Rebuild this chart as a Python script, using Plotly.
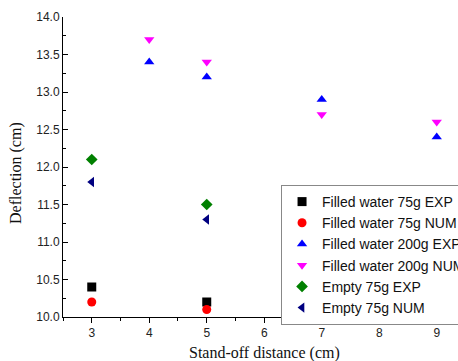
import plotly.graph_objects as go

x_fw75 = [3, 5]
y_fw75_exp = [10.4, 10.2]
y_fw75_num = [10.2, 10.1]
x_fw200 = [4, 5, 7, 9]
y_fw200_exp = [13.4, 13.2, 12.9, 12.4]
y_fw200_num = [13.7, 13.4, 12.7, 12.6]
x_em75 = [3, 5]
y_em75_exp = [12.1, 11.5]
y_em75_num = [11.8, 11.3]

series = [
    ("Filled water 75g EXP", x_fw75, y_fw75_exp, "square", "#000000"),
    ("Filled water 75g NUM", x_fw75, y_fw75_num, "circle", "#ff0000"),
    ("Filled water 200g EXP", x_fw200, y_fw200_exp, "triangle-up", "#0000ff"),
    ("Filled water 200g NUM", x_fw200, y_fw200_num, "triangle-down", "#ff00ff"),
    ("Empty 75g EXP", x_em75, y_em75_exp, "diamond", "#008000"),
    ("Empty 75g NUM", x_em75, y_em75_num, "triangle-left", "#000080"),
]

fig = go.Figure()
for name, xs, ys, sym, col in series:
    fig.add_trace(go.Scatter(x=xs, y=ys, mode="markers", name=name,
                             marker=dict(symbol=sym, color=col, size=9, line=dict(width=0))))

serif = "Liberation Serif, Times New Roman"
fig.update_layout(
    width=458, height=361,
    margin=dict(l=63, r=0, t=17, b=44, autoexpand=False),
    paper_bgcolor="white", plot_bgcolor="white",
    font=dict(family="Arial, Liberation Sans", size=12, color="#222"),
    legend=dict(x=0.552, y=0.44, xanchor="left", yanchor="top",
                bordercolor="#888", borderwidth=1, bgcolor="white",
                font=dict(size=14, color="#111"), tracegroupgap=0,
                itemwidth=30),
    xaxis=dict(range=[2.5, 9.37], tick0=3, dtick=1, ticks="outside", ticklen=5,
               automargin=False,
               showgrid=False, zeroline=False, showline=True, linecolor="black", linewidth=1,
               tickcolor="black",
               minor=dict(dtick=0.5, ticks="outside", ticklen=3, tickcolor="black")),
    yaxis=dict(range=[10, 14], dtick=0.5, tickformat=".1f", ticks="inside", ticklen=5,
               automargin=False,
               showgrid=False, zeroline=False, showline=True, linecolor="black", linewidth=1,
               tickcolor="black",
               minor=dict(dtick=0.25, ticks="inside", ticklen=3, tickcolor="black")),
    annotations=[
        dict(text="Stand-off distance (cm)", xref="paper", yref="paper", x=0.51, y=0,
             xanchor="center", yanchor="middle", yshift=-36, showarrow=False,
             font=dict(family=serif, size=16, color="#111")),
        dict(text="Deflection (cm)", xref="paper", yref="paper", x=0, y=0.5,
             xanchor="center", yanchor="middle", xshift=-47, yshift=-6, textangle=-90,
             showarrow=False, font=dict(family=serif, size=16, color="#111")),
    ],
)

fig.write_html("out.html", config={"displayModeBar": False},
               post_script="document.body.style.margin='0px';")
